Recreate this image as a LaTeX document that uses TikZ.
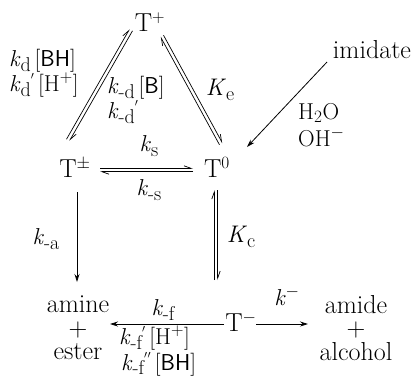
\documentclass[tikz,border=0pt]{standalone}
\usepackage{amsmath}
\usetikzlibrary{arrows.meta,calc}
\newcommand{\eqarr}[2]{%
  \draw[harp] ($(#1)!1.7pt!90:(#2)$) -- ($(#2)!1.7pt!-90:(#1)$);
  \draw[harp] ($(#2)!1.7pt!90:(#1)$) -- ($(#1)!1.7pt!-90:(#2)$);
}
\newcommand{\dn}[1]{\raisebox{-0.2em}{\fontsize{20}{20}\selectfont #1}}
\newcommand{\kk}{{\fontsize{23}{23}\selectfont\textit{k}}}
\newcommand{\KK}{{\fontsize{24}{24}\selectfont\textit{K}}}
\newcommand{\pr}{\raisebox{0.3em}{\fontsize{15}{15}\selectfont$'$}}
\newcommand{\br}[1]{\,[#1]}
\begin{document}
\begin{tikzpicture}[x=1pt,y=-1pt,
  sp/.style={inner sep=0pt,font=\fontsize{26}{23.5}\selectfont},
  lab/.style={inner sep=0pt,font=\fontsize{23}{24}\selectfont},
  harp/.style={line width=0.7pt,-{Straight Barb[left,length=7pt,width=5pt]}},
  one/.style={line width=0.8pt,-{Stealth[length=8pt,width=5pt]}}]
\useasboundingbox (0,0) rectangle (411,384);
% species
\node[sp] (Tp)  at (150,22)  {T$^+$};
\node[sp] (Tpm) at (75,168)  {T$^\pm$};
\node[sp] (T0)  at (217,167) {T$^0$};
\node[sp] (Tm)  at (241,322) {T$^-$};
\node[sp] (imid) at (372,50) {imidate};
\node[sp,align=center] (amine) at (78,328) {amine\\+\\ester};
\node[sp,align=center] (amide) at (356,328) {amide\\+\\alcohol};
% arrow end points
\coordinate (a1) at (68,140);  \coordinate (b1) at (131,30);
\coordinate (a2) at (162,36);  \coordinate (b2) at (221,144);
\coordinate (a3) at (100,170); \coordinate (b3) at (193,170);
\coordinate (a4) at (216,190); \coordinate (b4) at (216,280);
\coordinate (a5) at (77,192);  \coordinate (b5) at (77,282);
\coordinate (a6) at (327,62);  \coordinate (b6) at (247,147);
\coordinate (a7) at (224,324); \coordinate (b7) at (110,324);
\coordinate (a8) at (256,324); \coordinate (b8) at (308,324);
% equilibria
\eqarr{a1}{b1}
\eqarr{b2}{a2}
\eqarr{a3}{b3}
\eqarr{a4}{b4}
% one-way
\draw[one] (a5) -- (b5);
\draw[one] (a6) -- (b6);
\draw[one] (a7) -- (b7);
\draw[one] (a8) -- (b8);
% labels
\node[lab,anchor=west] (l1) at (9,61) {\kk\dn{d}\br{\textsf{BH}}};
\node[lab,anchor=west] (l2) at (9,85) {\kk\dn{d}\pr\br{H$^+$}};
\node[lab,anchor=west] (l3) at (107,88) {\kk\dn{-d}\br{\textsf{B}}};
\node[lab,anchor=west] (l4) at (107,112) {\kk\dn{-d}\pr};
\node[lab] (l5) at (149,146) {\kk\dn{s}};
\node[lab] (l6) at (149,190) {\kk\dn{-s}};
\node[lab] (l7) at (220,90) {\KK\dn{e}};
\node[lab,anchor=west] (l8a) at (298,113) {H$_2$O};
\node[lab,anchor=west] (l8b) at (298,137) {OH$^-$};
\node[lab] (l9) at (46,239) {\kk\dn{-a}};
\node[lab] (l10) at (241,237) {\KK\dn{c}};
\node[lab] (l11) at (163,310) {\kk\dn{-f}};
\node[lab,anchor=west] (l12) at (119,338) {\kk\dn{-f}\pr\br{H$^+$}};
\node[lab,anchor=west] (l13) at (121,364) {\kk\dn{-f}\pr\pr\br{\textsf{BH}}};
\node[lab] (l14) at (287,296) {\kk$^-$};
\end{tikzpicture}
\end{document}
